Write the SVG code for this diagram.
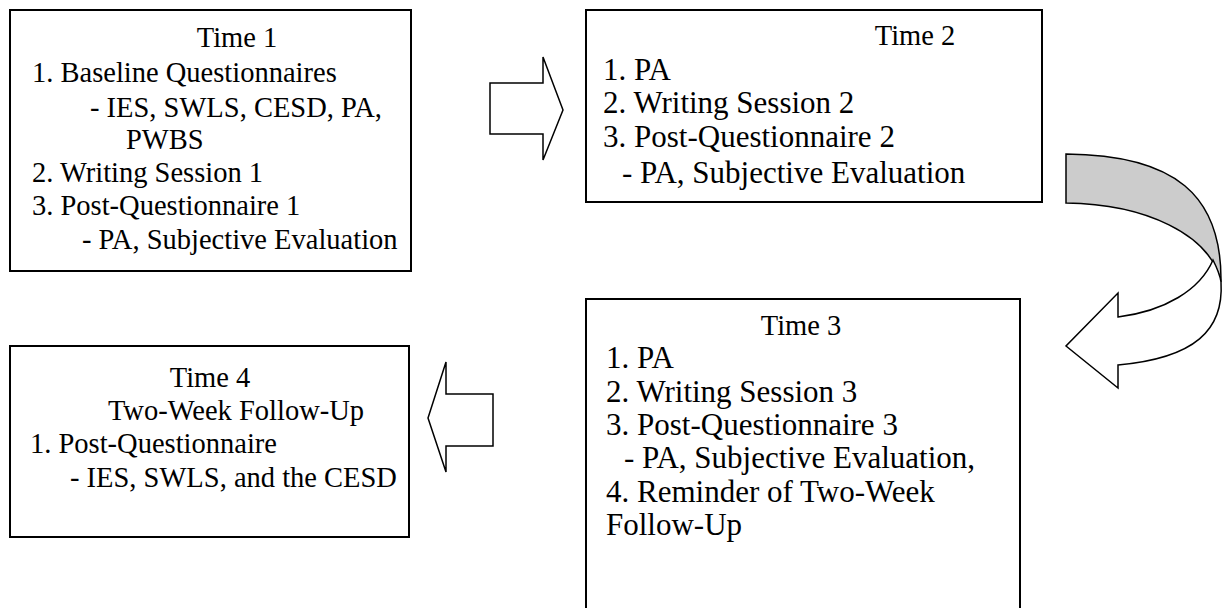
<svg xmlns="http://www.w3.org/2000/svg" width="1231" height="608" viewBox="0 0 1231 608">
<style>
.box{fill:#fff;stroke:#000;stroke-width:2}
.arr{fill:#fff;stroke:#000;stroke-width:1.5;stroke-linejoin:miter}
.band{fill:#cccccc;stroke:#000;stroke-width:1.5}
text{font-family:"Liberation Serif","Times New Roman",serif;font-size:28.5px;fill:#000}
.b{font-size:31px}
.c{text-anchor:middle}
</style>
<rect width="1231" height="608" fill="#fff"/>
<g id="time1">
<rect class="box" x="10" y="10" width="401" height="261"/>
<text class="c" x="237" y="47">Time 1</text>
<text x="32" y="82">1. Baseline Questionnaires</text>
<text x="90" y="117">- IES, SWLS, CESD, PA,</text>
<text x="126" y="149">PWBS</text>
<text x="32" y="182">2. Writing Session 1</text>
<text x="32" y="215">3. Post-Questionnaire 1</text>
<text x="82" y="249">- PA, Subjective Evaluation</text>
</g>
<g id="time2">
<rect class="box" x="586" y="10" width="456" height="192"/>
<text class="c" x="915" y="45">Time 2</text>
<text class="b" x="603" y="80">1. PA</text>
<text class="b" x="603" y="113">2. Writing Session 2</text>
<text class="b" x="603" y="147">3. Post-Questionnaire 2</text>
<text class="b" x="622" y="183">- PA, Subjective Evaluation</text>
</g>
<g id="time3">
<rect class="box" x="586" y="299" width="434" height="320"/>
<text class="c" x="801" y="335">Time 3</text>
<text class="b" x="606" y="368">1. PA</text>
<text class="b" x="606" y="402">2. Writing Session 3</text>
<text class="b" x="606" y="435">3. Post-Questionnaire 3</text>
<text class="b" x="624" y="468">- PA, Subjective Evaluation,</text>
<text class="b" x="606" y="502">4. Reminder of Two-Week</text>
<text class="b" x="606" y="535">Follow-Up</text>
</g>
<g id="time4">
<rect class="box" x="10" y="346" width="399" height="191"/>
<text class="c" x="210" y="387">Time 4</text>
<text class="c" x="236" y="420">Two-Week Follow-Up</text>
<text x="30" y="453">1. Post-Questionnaire</text>
<text x="70" y="487">- IES, SWLS, and the CESD</text>
</g>
<g id="connectors">
<polygon class="arr" points="490,83 543,83 543,57 563,110 543,160 543,134 490,134"/>
<polygon class="arr" points="493,394 446,394 446,362 428,418 446,472 446,446 493,446"/>
<path class="band" d="M1066,154 C1175,155 1222,195 1221,282 C1210,234 1145,204 1066,203 Z"/>
<path class="arr" d="M1213,260 C1217,268 1220,275 1221,282 C1224,330 1195,358 1118,365 L1118,388 L1066,346 L1118,293 L1118,317 C1165,311 1200,290 1213,260 Z"/>
</g>
</svg>
